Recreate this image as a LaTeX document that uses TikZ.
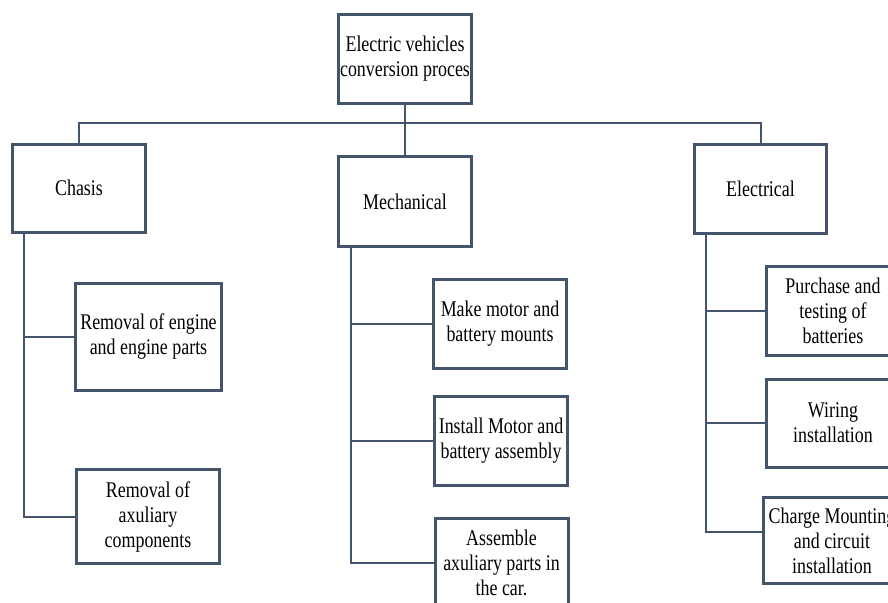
\documentclass[tikz,border=0pt]{standalone}
\usepackage{fontspec}
\setmainfont{Liberation Serif}[FakeStretch=0.8]
\usepackage{tikz}
\usetikzlibrary{positioning}
\definecolor{BoxSlate}{HTML}{44546A}

\begin{document}
\begin{tikzpicture}[
    x=0.5pt, y=-0.5pt,
    box/.style={
        draw=BoxSlate,
        line width=1.5pt,
        fill=white,
        align=center,
        inner sep=1pt,
        minimum width=66.5pt,
        minimum height=44.5pt,
        font=\fontsize{11.2}{12.5}\selectfont
    },
    link/.style={
        draw=BoxSlate,
        line width=1pt
    }
]
\useasboundingbox (0,0) rectangle (888,602);
\clip (0,0) rectangle (888,602);

\node[box] (top) at (405,58.5) {Electric vehicles\\conversion proces};

\node[box, minimum height=44pt] (chas) at (79,188) {Chasis};
\node[box, minimum height=45pt] (mech) at (405,201.5) {Mechanical};
\node[box, minimum width=66pt] (elec) at (760.5,189) {Electrical};

% chasis branch
\node[box, minimum width=73pt, minimum height=53.5pt] (eng) at (148.5,337) {Removal of engine\\and engine parts};
\node[box, minimum width=71.5pt, minimum height=47pt] (aux) at (148,516.5) {Removal of\\axuliary\\components};

% mechanical branch
\node[box] (mounts) at (500,323.5) {Make motor and\\battery mounts};
\node[box] (install) at (501,441) {Install Motor and\\battery assembly};
\node[box] (assemble) at (501.5,563) {Assemble\\axuliary parts in\\the car.};

% electrical branch
\node[box] (purchase) at (833,310.5) {Purchase and\\testing of\\batteries};
\node[box, minimum height=44pt] (wiring) at (833,423) {Wiring\\installation};
\node[box, minimum width=68.5pt, minimum height=43pt] (charge) at (832,540.5) {Charge Mounting\\and circuit\\installation};

\coordinate (bus) at (405,123);
\coordinate (chasT) at (24,233);
\coordinate (mechT) at (351,248);
\coordinate (elecT) at (706,235);

\draw[link] (top.south) -- (mech.north);
\draw[link] (chas.north) |- (bus) -| (elec.north);

\draw[link] (chasT) |- (aux.west);
\draw[link] (chasT |- eng.west) -- (eng.west);

\draw[link] (mechT) |- (assemble.west);
\draw[link] (mechT |- mounts.west) -- (mounts.west);
\draw[link] (mechT |- install.west) -- (install.west);

\draw[link] (elecT) |- ([yshift=4.25pt]charge.west);
\draw[link] (elecT |- purchase.west) -- (purchase.west);
\draw[link] (elecT |- wiring.west) -- (wiring.west);

\end{tikzpicture}
\end{document}
